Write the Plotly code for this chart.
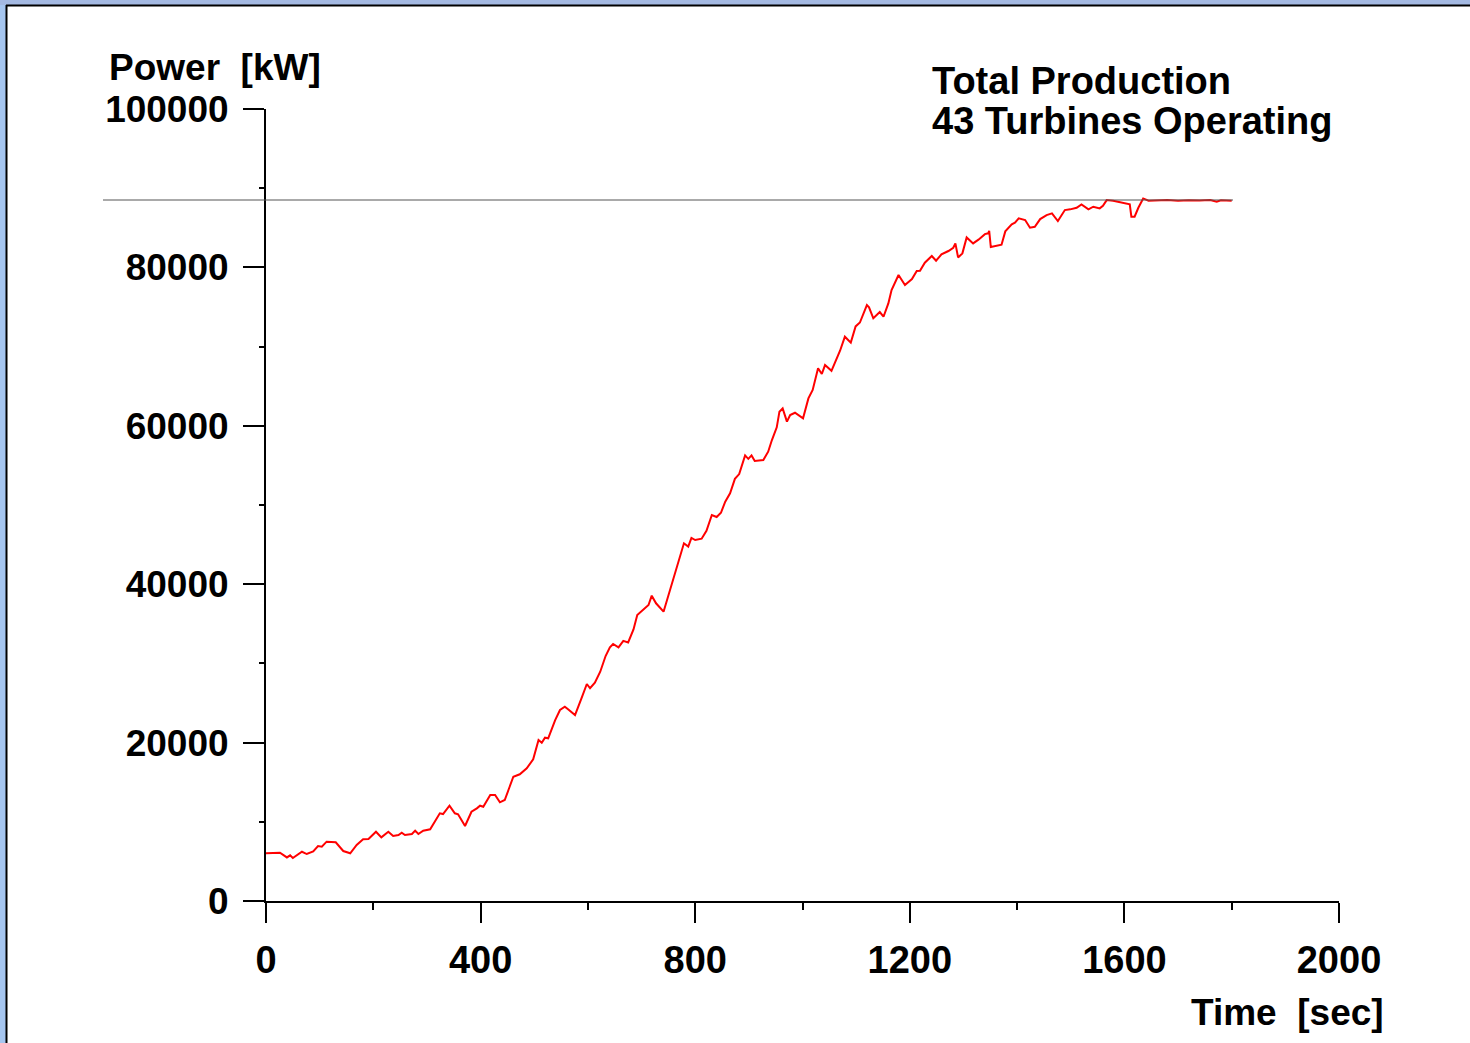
import plotly.graph_objects as go

# ---- data ----
time_sec = [0, 13, 26, 39, 45, 50, 67, 76, 88, 97, 104, 113, 130, 144, 157, 169, 181, 191,
            205, 215, 228, 237, 247, 253, 259, 272, 278, 284, 293, 306, 315, 324, 330, 342,
            352, 358, 371, 383, 393, 399, 405, 418, 427, 436, 445, 461, 473, 480, 486, 498,
            508, 514, 520, 526, 539, 548, 557, 563, 576, 588, 598, 604, 613, 623, 633, 641,
            647, 657, 666, 675, 685, 692, 706, 713, 719, 727, 741, 752, 762, 770, 779, 787,
            793, 800, 812, 821, 831, 840, 848, 856, 865, 874, 882, 893, 899, 905, 911, 927,
            936, 943, 952, 957, 963, 971, 977, 986, 994, 1001, 1011, 1019, 1029, 1036, 1042,
            1054, 1070, 1079, 1090, 1099, 1107, 1120, 1124, 1132, 1144, 1151, 1160, 1166,
            1179, 1191, 1204, 1213, 1219, 1228, 1241, 1249, 1259, 1272, 1281, 1285, 1290,
            1298, 1306, 1318, 1328, 1340, 1346, 1348, 1351, 1371, 1378, 1390, 1396, 1403,
            1415, 1424, 1433, 1443, 1455, 1465, 1476, 1489, 1499, 1511, 1520, 1533, 1542,
            1554, 1560, 1567, 1579, 1592, 1604, 1610, 1613, 1619, 1626, 1635, 1645, 1660,
            1680, 1700, 1720, 1740, 1760, 1772, 1780, 1800]
power_kw = [6020, 6050, 6100, 5500, 5760, 5430, 6220, 5930, 6260, 6940, 6860, 7490, 7410, 6310,
            6020, 7070, 7790, 7830, 8750, 8040, 8750, 8210, 8330, 8620, 8330, 8460, 8880, 8460,
            8880, 9050, 10010, 11070, 10980, 12030, 11070, 10950, 9470, 11270, 11700, 12030,
            11900, 13380, 13380, 12460, 12750, 15690, 16000, 16450, 16750, 17890, 20330, 19990,
            20620, 20540, 22850, 24120, 24530, 24200, 23480, 25590, 27400, 26860, 27560, 28950,
            30930, 32020, 32450, 32020, 32850, 32650, 34290, 36110, 36960, 37370, 38550, 37590,
            36530, 39050, 41160, 43050, 45160, 44740, 45850, 45580, 45750, 46750, 48740, 48480,
            49020, 50420, 51470, 53300, 53900, 56260, 55830, 56260, 55570, 55680, 56730, 58200,
            59810, 61780, 62190, 60520, 61360, 61650, 61230, 60940, 63460, 64520, 67260, 66540,
            67670, 66940, 69480, 71250, 70500, 72550, 73040, 75250, 74960, 73570, 74360, 73770,
            75450, 77150, 79040, 77780, 78530, 79540, 79580, 80590, 81440, 80840, 81640, 82070,
            82480, 83030, 81260, 81770, 83780, 83030, 83500, 84200, 84300, 84610, 82570, 82860,
            84550, 85450, 85640, 86190, 85980, 85010, 85130, 86100, 86610, 86820, 85850, 87240,
            87330, 87530, 87960, 87330, 87660, 87450, 87780, 88500, 88420, 88210, 88080, 87960,
            86400, 86400, 87530, 88710, 88420, 88450, 88500, 88400, 88480, 88450, 88500, 88290,
            88480, 88420]
rated_power_kw = 88510
x_ticks = [0, 400, 800, 1200, 1600, 2000]
y_ticks = [0, 20000, 40000, 60000, 80000, 100000]

W, H = 1470, 1043
L, R, T, B = 266, 1339, 109, 901


def px(x):
    return (x - L) / (R - L)


def py(y):
    return (B - y) / (B - T)


FONT = "Liberation Sans, Arial, sans-serif"

fig = go.Figure()
fig.add_trace(go.Scatter(x=time_sec, y=power_kw, mode="lines",
                         line=dict(color="#ff0000", width=2), showlegend=False,
                         hoverinfo="skip"))

axis_common = dict(showline=True, linecolor="black", linewidth=2, showgrid=False,
                   zeroline=False, ticks="outside", tickcolor="black", tickwidth=2)

fig.update_xaxes(range=[0, 2000], tickvals=x_ticks, ticktext=[str(v) for v in x_ticks],
                 ticklen=20, ticklabelstandoff=4,
                 tickfont=dict(family=FONT, size=38, color="black", weight="bold"),
                 minor=dict(dtick=200, ticks="outside", ticklen=7, tickwidth=2,
                            tickcolor="black"),
                 **axis_common)
fig.update_yaxes(range=[0, 100000], tickvals=y_ticks, ticktext=[str(v) for v in y_ticks],
                 ticklen=21, ticklabelstandoff=7,
                 tickfont=dict(family=FONT, size=37, color="black", weight="bold"),
                 minor=dict(dtick=10000, ticks="outside", ticklen=5, tickwidth=2,
                            tickcolor="black"),
                 **axis_common)

shapes = [
    # rated power reference line
    dict(type="line", xref="paper", yref="y", x0=px(103), x1=px(1233),
         y0=rated_power_kw, y1=rated_power_kw, line=dict(color="#555555", width=1)),
    # slide background strips and frame
    dict(type="rect", xref="paper", yref="paper", x0=px(0), x1=px(6), y0=py(0), y1=py(H),
         fillcolor="#a6c6f0", line=dict(width=0), layer="below"),
    dict(type="rect", xref="paper", yref="paper", x0=px(0), x1=px(W), y0=py(0), y1=py(5),
         fillcolor="#a4b9e2", line=dict(width=0), layer="below"),
    dict(type="line", xref="paper", yref="paper", x0=px(6.5), x1=px(6.5), y0=py(5), y1=py(H),
         line=dict(color="black", width=2)),
    dict(type="line", xref="paper", yref="paper", x0=px(6), x1=px(W), y0=py(5.5), y1=py(5.5),
         line=dict(color="black", width=2)),
]

annots = [
    dict(text="<b>Power\u00a0 [kW]</b>", x=px(107), y=py(67), xanchor="left", yanchor="middle",
         size=37),
    dict(text="<b>Time\u00a0 [sec]</b>", x=px(1189), y=py(1012), xanchor="left",
         yanchor="middle", size=37),
    dict(text="<b>Total Production</b>", x=px(930), y=py(81), xanchor="left",
         yanchor="middle", size=38),
    dict(text="<b>43 Turbines Operating</b>", x=px(930), y=py(121), xanchor="left",
         yanchor="middle", size=38),
]
for a in annots:
    s = a.pop("size")
    a.update(xref="paper", yref="paper", showarrow=False,
             font=dict(family=FONT, size=s, color="black"))

fig.update_layout(width=W, height=H, margin=dict(l=L, r=W - R, t=T, b=H - B),
                  paper_bgcolor="white", plot_bgcolor="white", shapes=shapes,
                  annotations=annots, showlegend=False)

fig.write_html("out.html", config={"displayModeBar": False},
               post_script="document.body.style.margin='0px';"
                           "document.body.style.overflow='hidden';")
